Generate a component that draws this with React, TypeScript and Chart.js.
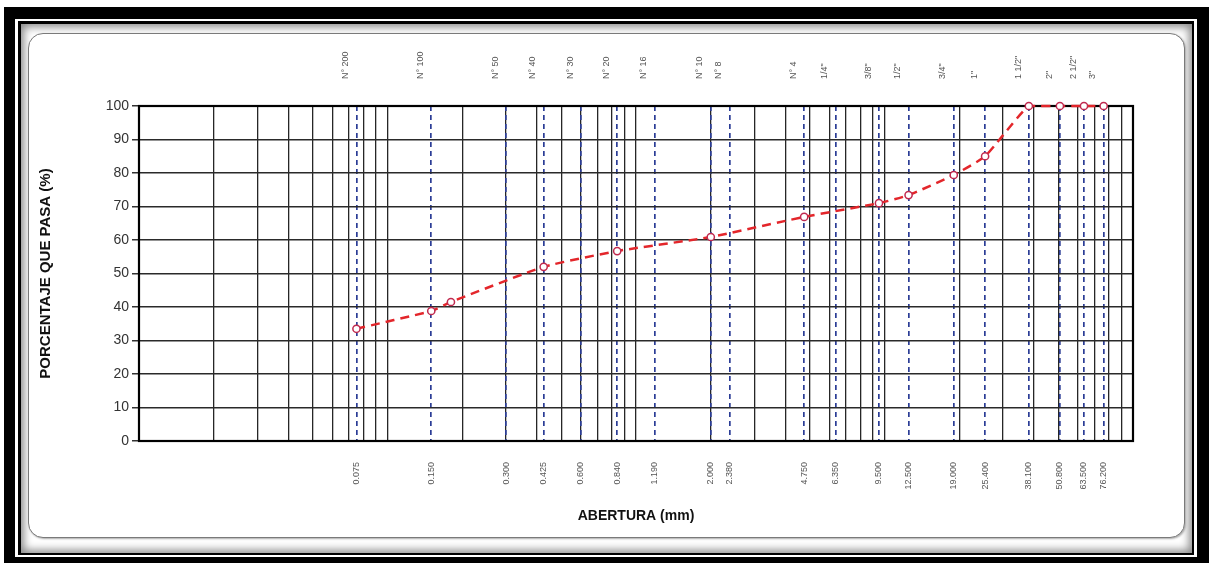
import React, { useEffect, useRef } from 'react';
import { Chart, registerables } from 'chart.js';

Chart.register(...registerables);

// Sieve designations (top axis) and openings in mm (bottom axis)
const sieveNames = ['N° 200', 'N° 100', 'N° 50', 'N° 40', 'N° 30', 'N° 20', 'N° 16', 'N° 10', 'N° 8', 'N° 4', '1/4"', '3/8"', '1/2"', '3/4"', '1"', '1 1/2"', '2"', '2 1/2"', '3"'];
const sieveMm = [0.075, 0.15, 0.3, 0.425, 0.6, 0.84, 1.19, 2.0, 2.38, 4.75, 6.35, 9.5, 12.5, 19.0, 25.4, 38.1, 50.8, 63.5, 76.2];
const sieveMmLabels = ['0.075', '0.150', '0.300', '0.425', '0.600', '0.840', '1.190', '2.000', '2.380', '4.750', '6.350', '9.500', '12.500', '19.000', '25.400', '38.100', '50.800', '63.500', '76.200'];

// Granulometric curve
const sampleSize = [0.075, 0.15, 0.18, 0.425, 0.84, 2.0, 4.75, 9.5, 12.5, 19.0, 25.4, 38.1, 50.8, 63.5, 76.2];
const samplePassing = [33.5, 38.8, 41.5, 52.0, 56.7, 60.9, 66.9, 71.0, 73.4, 79.4, 85.0, 100, 100, 100, 100];

const X_MIN = 0.01;
const X_MAX = 100;
const Y_TICKS = [0, 10, 20, 30, 40, 50, 60, 70, 80, 90, 100];

const FONT = "'Liberation Sans', Arial, Helvetica, sans-serif";

function logGridValues(): number[] {
  const out: number[] = [];
  for (let e = -2; e <= 1; e++) {
    for (let m = 1; m <= 9; m++) {
      out.push(parseFloat((m * Math.pow(10, e)).toPrecision(6)));
    }
  }
  out.push(100);
  return out;
}

const framePlugin = {
  id: 'frame',
  beforeDatasetsDraw(chart: any) {
    const { ctx, chartArea } = chart;
    const { left, top, right, bottom } = chartArea;
    ctx.save();
    ctx.strokeStyle = '#000';
    ctx.lineWidth = 2.2;
    ctx.strokeRect(left, top, right - left, bottom - top);
    ctx.restore();
  },
};

export default function App() {
  const canvasRef = useRef<HTMLCanvasElement | null>(null);

  useEffect(() => {
    const canvas = canvasRef.current;
    if (!canvas) return;
    const gridVals = logGridValues();
    const sieveTicks = (s: any) => {
      s.ticks = sieveMm.map((v) => ({ value: v }));
    };
    const chart = new Chart(canvas, {
      type: 'line',
      data: {
        datasets: [
          {
            data: sampleSize.map((x, i) => ({ x, y: samplePassing[i] })),
            xAxisID: 'x',
            yAxisID: 'y',
            borderColor: '#e3262b',
            borderWidth: 2.5,
            borderDash: [9, 6],
            tension: 0.15,
            pointRadius: 3.6,
            pointStyle: 'circle',
            pointBackgroundColor: '#ffffff',
            pointBorderColor: '#c02a4f',
            pointBorderWidth: 1.5,
            clip: false,
            fill: false,
          } as any,
        ],
      },
      options: {
        responsive: false,
        animation: false,
        devicePixelRatio: 1,
        layout: { padding: { left: 0, top: 0, right: 52, bottom: 0 } },
        plugins: { legend: { display: false }, tooltip: { enabled: false } },
        scales: {
          x: {
            type: 'logarithmic',
            position: 'bottom',
            min: X_MIN,
            max: X_MAX,
            afterBuildTicks: (s: any) => {
              s.ticks = gridVals.map((v) => ({ value: v }));
            },
            ticks: { display: false },
            grid: { color: '#262626', lineWidth: 1.3, drawTicks: false },
            border: { display: false },
            afterFit: (s: any) => {
              s.height = 0;
            },
          },
          xb: {
            type: 'logarithmic',
            position: 'bottom',
            min: X_MIN,
            max: X_MAX,
            afterBuildTicks: sieveTicks,
            ticks: {
              autoSkip: false,
              minRotation: 90,
              maxRotation: 90,
              padding: 21,
              color: '#555',
              font: { size: 9, family: FONT },
              callback: (_v: any, i: number) => sieveMmLabels[i],
            },
            grid: { color: '#2b3d96', lineWidth: 1.7, drawTicks: false },
            border: { display: false, dash: [5, 4] },
            title: {
              display: true,
              text: 'ABERTURA (mm)',
              color: '#111',
              font: { size: 14, weight: 'bold', family: FONT },
              padding: { top: 0, bottom: 13 },
            },
            afterFit: (s: any) => {
              s.height = 97;
            },
          },
          xt: {
            type: 'logarithmic',
            position: 'top',
            min: X_MIN,
            max: X_MAX,
            afterBuildTicks: sieveTicks,
            ticks: {
              autoSkip: false,
              minRotation: 90,
              maxRotation: 90,
              padding: 27,
              color: '#555',
              font: { size: 9, family: FONT },
              callback: (_v: any, i: number) => sieveNames[i],
            },
            grid: { display: false, drawTicks: false },
            border: { display: false },
            afterFit: (s: any) => {
              s.height = 73;
            },
          },
          y: {
            type: 'linear',
            position: 'left',
            min: 0,
            max: 100,
            afterBuildTicks: (s: any) => {
              s.ticks = Y_TICKS.map((v) => ({ value: v }));
            },
            ticks: {
              padding: 3,
              color: '#333',
              font: { size: 14, family: FONT },
            },
            grid: { color: '#2a2a2a', lineWidth: 1.5, tickLength: 7, tickColor: '#333' },
            border: { display: true, color: '#000', width: 2 },
            title: {
              display: true,
              text: 'PORCENTAJE QUE PASA (%)',
              color: '#111',
              font: { size: 15, weight: 'bold', family: FONT },
              padding: { top: 9, bottom: 0 },
            },
            afterFit: (s: any) => {
              s.width = 111;
            },
          },
        } as any,
      },
      plugins: [framePlugin],
    });
    return () => chart.destroy();
  }, []);

  return (
    <div style={{ position: 'fixed', left: 0, top: 0, width: 1213, height: 564, background: '#fff', overflow: 'hidden' }}>
      <div style={{ position: 'absolute', left: 4, top: 7, width: 1205, height: 556, background: '#000' }} />
      <div style={{ position: 'absolute', left: 15, top: 19, width: 1182, height: 538, background: '#fff' }} />
      <div style={{ position: 'absolute', left: 18, top: 21, width: 1176, height: 534, background: '#000' }} />
      <div
        style={{
          position: 'absolute',
          left: 21,
          top: 24,
          width: 1171,
          height: 529,
          background: '#fff',
          boxShadow: 'inset 0 0 9px 3px #8a8a8a',
        }}
      />
      <div
        style={{
          position: 'absolute',
          left: 28,
          top: 33,
          width: 1157,
          height: 505,
          boxSizing: 'border-box',
          border: '1.5px solid #7a7a7a',
          borderRadius: 15,
          background: '#fff',
          boxShadow: '1px 1px 2px #aaa',
        }}
      />
      <canvas
        ref={canvasRef}
        width={1157}
        height={505}
        style={{ position: 'absolute', left: 28, top: 33, width: 1157, height: 505, display: 'block' }}
      />
    </div>
  );
}
